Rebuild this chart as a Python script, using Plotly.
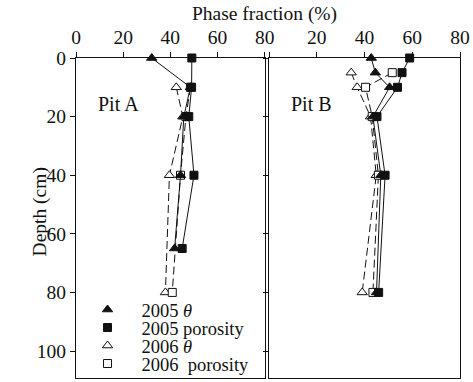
import plotly.graph_objects as go

# ---------------- data ----------------
# Pit A
a_depth_05 = [0, 10, 20, 40, 65]
a_theta_05 = [32.1, 48.5, 45.7, 44.3, 41.8]
a_por_05 = [49.1, 49.0, 47.8, 50.0, 45.0]
a_depth_06 = [10, 20, 40, 80]
a_theta_06 = [42.5, 45.3, 39.6, 37.9]
a_por_06 = [48.5, 46.6, 44.3, 40.8]

# Pit B
b_depth_05 = [0, 5, 10, 20, 40, 80]
b_theta_05 = [42.8, 44.5, 50.5, 43.5, 46.8, 45.0]
b_por_05 = [58.9, 55.7, 53.8, 45.2, 48.6, 45.9]
b_depth_06 = [5, 10, 20, 40, 80]
b_theta_06 = [34.4, 36.9, 42.5, 44.9, 39.0]
b_por_06 = [51.6, 40.4, 43.2, 45.8, 43.5]

x_ticks = [0, 20, 40, 60, 80]
x_ticks_b = [20, 40, 60, 80]
y_ticks = [0, 20, 40, 60, 80, 100]

FONT = "Liberation Serif, Times New Roman, serif"
FS = 19.5
LFS = 18.5
BLACK = "#111111"

series = [
    # name, marker symbol, filled, dash, key
    ("2005 <i>θ</i>", "triangle-up", True, "solid", "t05"),
    ("2005 porosity", "square", True, "solid", "p05"),
    ("2006 <i>θ</i>", "triangle-up", False, "dash", "t06"),
    ("2006\u00a0 porosity", "square", False, "dash", "p06"),
]
meta = {s[4]: s for s in series}

pit_data = {
    ("x", "y"): {"t05": (a_depth_05, a_theta_05), "p05": (a_depth_05, a_por_05),
                 "t06": (a_depth_06, a_theta_06), "p06": (a_depth_06, a_por_06)},
    ("x2", "y2"): {"t05": (b_depth_05, b_theta_05), "p05": (b_depth_05, b_por_05),
                   "t06": (b_depth_06, b_theta_06), "p06": (b_depth_06, b_por_06)},
}


def marker_style(sym, filled):
    return dict(symbol=sym, size=9 if "triangle" in sym else 8,
                color=BLACK if filled else "white",
                line=dict(color=BLACK, width=1))


fig = go.Figure()

draw_order = ["t06", "p06", "t05", "p05"]
for (xa, ya), d in pit_data.items():
    for key in draw_order:
        name, sym, filled, dash, _ = meta[key]
        depth, val = d[key]
        fig.add_trace(go.Scatter(
            x=val, y=depth, xaxis=xa, yaxis=ya, mode="lines+markers",
            line=dict(color=BLACK, width=1, dash="8px,4px" if dash == "dash" else "solid"),
            marker=marker_style(sym, filled),
            showlegend=False, hoverinfo="skip", cliponaxis=False))

# legend entries (markers only), one legend per row for tight spacing
legend_names = ["legend", "legend2", "legend3", "legend4"]
for i, (name, sym, filled, dash, key) in enumerate(series):
    fig.add_trace(go.Scatter(
        x=[None], y=[None], mode="markers", name="\u00a0\u00a0\u00a0" + name,
        marker=marker_style(sym, filled), legend=legend_names[i],
        xaxis="x", yaxis="y"))

axis_common = dict(showgrid=False, zeroline=False, showline=True, linecolor=BLACK,
                   linewidth=1, mirror=True, ticks="outside", ticklen=5,
                   tickcolor=BLACK, tickfont=dict(family=FONT, size=FS, color=BLACK))

# legend rows: pixel centres in a 320px tall plot area (bottom at 378)
row_px = [310, 328, 346, 364]
legend_layout = {}
for i, ln in enumerate(legend_names):
    legend_layout[ln] = dict(
        x=0.03, y=(378 - row_px[i]) / 320, xanchor="left", yanchor="middle",
        bgcolor="rgba(0,0,0,0)", borderwidth=0,
        font=dict(family=FONT, size=LFS, color=BLACK), itemsizing="trace")

fig.update_layout(
    width=473, height=382,
    margin=dict(l=76, r=13, t=58, b=4, autoexpand=False),
    paper_bgcolor="white", plot_bgcolor="white",
    font=dict(family=FONT, size=FS, color=BLACK),
    xaxis=dict(domain=[0, 0.4915], range=[0, 80], side="top", tickvals=x_ticks,
               anchor="y", **axis_common),
    yaxis=dict(domain=[0, 1], range=[109.2, 0], tickvals=y_ticks, anchor="x",
               **axis_common),
    xaxis2=dict(domain=[0.503, 1], range=[0, 80], side="top", tickvals=x_ticks,
                ticktext=[""] + [str(v) for v in x_ticks_b], anchor="y2", **axis_common),
    yaxis2=dict(domain=[0, 1], range=[109.2, 0], tickvals=y_ticks, anchor="x2",
                showticklabels=False, **axis_common),
    annotations=[
        dict(text="Phase fraction (%)", xref="paper", yref="paper", x=0.49, y=1.1375,
             xanchor="center", yanchor="middle", showarrow=False,
             font=dict(family=FONT, size=FS, color=BLACK)),
        dict(text="Depth (cm)", xref="paper", yref="paper", x=-0.095, y=0.519,
             xanchor="center", yanchor="middle", textangle=-90, showarrow=False,
             font=dict(family=FONT, size=FS, color=BLACK)),
        dict(text="Pit A", xref="x", yref="y", x=8.6, y=15.7, xanchor="left",
             yanchor="middle", showarrow=False, font=dict(family=FONT, size=20, color=BLACK)),
        dict(text="Pit B", xref="x2", yref="y2", x=8.4, y=15.7, xanchor="left",
             yanchor="middle", showarrow=False, font=dict(family=FONT, size=20, color=BLACK)),
    ],
    **legend_layout,
)

fig.write_html("out.html")
